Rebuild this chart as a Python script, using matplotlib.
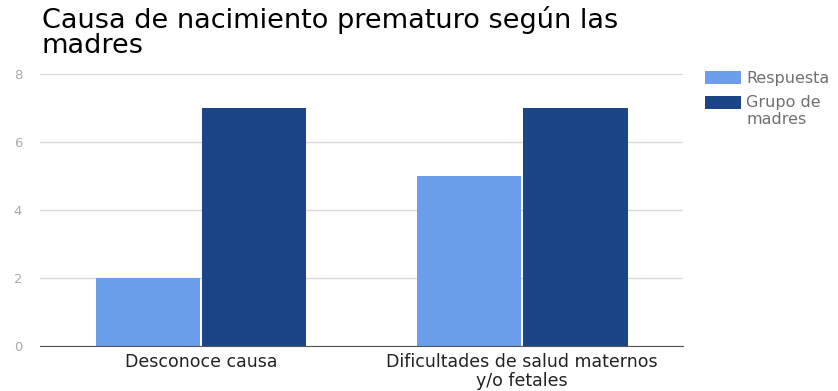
import matplotlib
matplotlib.use("Agg")
import matplotlib.pyplot as plt
import numpy as np

plt.rcParams['font.family'] = ['DejaVu Sans']

categories = ["Desconoce causa", "Dificultades de salud maternos\ny/o fetales"]
series_names = ["Respuesta", "Grupo de\nmadres"]
respuesta = [2, 5]
grupo = [7, 7]
yticks = [0, 2, 4, 6, 8]
colors = ["#6d9eeb", "#1c4587"]

fig = plt.figure(figsize=(8.38, 3.91), dpi=100)
ax = fig.add_axes([0.048, 0.115, 0.767, 0.696])

x = np.arange(len(categories))
w = 0.325
ax.bar(x - w / 2 - 0.003, respuesta, w, color=colors[0], label=series_names[0], zorder=3)
ax.bar(x + w / 2 + 0.003, grupo, w, color=colors[1], label=series_names[1], zorder=3)

ax.set_xlim(-0.5, 1.5)
ax.set_ylim(0, 8)
ax.set_yticks(yticks)
ax.set_yticklabels([str(t) for t in yticks])
ax.grid(axis='y', color='#d9d9d9', linewidth=1, zorder=0)
for s in ['top', 'right', 'left']:
    ax.spines[s].set_visible(False)
ax.spines['bottom'].set_color('#555555')
ax.spines['bottom'].set_zorder(4)
ax.tick_params(axis='y', length=0, labelsize=9.5, labelcolor='#aaaaaa', pad=13)
ax.tick_params(axis='x', length=0, labelsize=12.5, labelcolor='#222222', pad=5)
ax.set_xticks(x)
ax.set_xticklabels(categories, linespacing=1.05)

fig.text(0.05, 0.985, "Causa de nacimiento prematuro según las\nmadres", fontsize=19.5,
         color='#000000', va='top', ha='left', linespacing=0.95)

leg = ax.legend(loc='upper left', bbox_to_anchor=(1.025, 1.035), frameon=False,
                fontsize=11.5, handlelength=2.2, handleheight=0.85, handletextpad=0.35,
                labelspacing=0.0, borderaxespad=0)
texts = leg.get_texts()
for t in texts:
    t.set_color('#707070')
    t.set_linespacing(1.2)
texts[1].set_y(-9)

fig.savefig("out.png", dpi=100)
